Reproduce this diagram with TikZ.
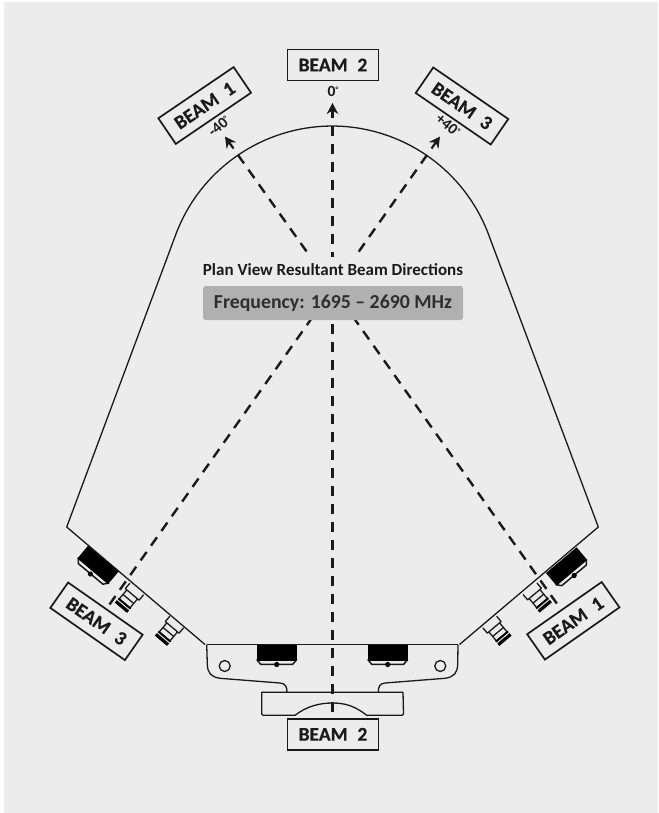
\documentclass[tikz,border=0pt]{standalone}
\usepackage{fontspec}
\usetikzlibrary{arrows.meta}
\setmainfont{Carlito}
\newfontfamily\heavyfont{Carlito Bold}[FakeBold=0.35]
\definecolor{bgc}{HTML}{ECECEC}
\definecolor{ink}{HTML}{1A1A1A}
\tikzset{
  x=1pt,y=-1pt,
  outline/.style={draw=ink,line width=1.3pt,line join=round},
  beamline/.style={draw=ink,line width=2.4pt,dash pattern=on 10.3pt off 7.7pt},
  beamtip/.style={draw=ink,line width=2.2pt,-{Stealth[length=11pt,width=11.5pt]}},
  beamlabel/.style={draw=ink,line width=1.7pt,fill=bgc,minimum width=91pt,minimum height=31pt,inner sep=0pt,font=\heavyfont\fontsize{19.5}{20}\selectfont,text=ink},
  anglelabel/.style={inner sep=0pt,font=\bfseries\fontsize{15.5}{16}\selectfont,text=ink},
}
\newcommand{\mountblock}[3]{%
  \begin{scope}[shift={(#1,#2)},rotate=#3]
    \draw[outline,line width=1.5pt,fill=bgc] (-20,15) -- (-16,19.8) -- (16,19.8) -- (20,15);
    \fill[black] (-20,0) -- (20,0) -- (20,16.5) -- (-20,16.5) -- cycle;
    \fill[black] (0,20) circle (2.6);
  \end{scope}}
\newcommand{\portblock}[3]{%
  \begin{scope}[shift={(#1,#2)},rotate=#3]
    \draw[outline] (-9,0) -- (-9,7) -- (9,7) -- (9,0);
    \draw[outline] (-7,7) -- (-7,19) -- (7,19) -- (7,7);
    \draw[outline] (-7,13) -- (7,13);
    \fill[black] (-8,18) rectangle (8,20);
    \fill[black] (-8,21.3) rectangle (8,24.5);
  \end{scope}}
\begin{document}
\begin{tikzpicture}
\useasboundingbox (0,0) rectangle (658,813);
\fill[white] (0,0) rectangle (658,813);
\fill[bgc] (4,2) rectangle (658,813);
% named points of the beam axes
\coordinate (c0) at (332.5,126);
\coordinate (c0low) at (332.5,713);
\coordinate (c0tail) at (332.5,118);
\coordinate (c0tip) at (332.5,103);
\coordinate (l0) at (238,155);
\coordinate (l0low) at (560,608);
\coordinate (l0tail) at (233.5,148.5);
\coordinate (l0tip) at (225,136.5);
\coordinate (r0) at (427,155);
\coordinate (r0low) at (107,608);
\coordinate (r0tail) at (431.5,148.5);
\coordinate (r0tip) at (440,136.5);
% housing
\draw[outline] (205,644.5) -- (66.7,527) -- (175.6,235)
  arc[start angle=159.65,end angle=20.35,radius=167pt]
  -- (598.3,527) -- (459.5,644.5);
\draw[outline] (206.7,644.5) -- (458,644.5);
\draw[outline] (206.7,644.5) -- (207.3,664) .. controls (207.5,673) and (211,677) .. (220,678.3)
  -- (280,683) .. controls (285,683.5) and (287,686) .. (287,692.3);
\draw[outline] (458,644.5) -- (457.7,664) .. controls (457.5,673) and (454,677) .. (445,678.3)
  -- (385,683) .. controls (380,683.5) and (378.3,686) .. (378.3,692.3);
\draw[outline] (295,715.3) -- (263,715.3) -- (261.7,714) -- (261.7,692.3) -- (403,692.3) -- (403.5,714) -- (402,715.3) -- (366.7,715.3)
  .. controls (355,706) and (345,703) .. (332.5,703) .. controls (320,703) and (307,706) .. (295,715.3);
\draw[outline] (224.7,666) circle (5.5);
\draw[outline] (440.3,666) circle (5.5);
% beams
\draw[beamline] (c0) -- (c0low);
\draw[beamline] (l0) -- (l0low);
\draw[beamline] (r0) -- (r0low);
\draw[beamtip] (c0tail) -- (c0tip);
\draw[beamtip] (l0tail) -- (l0tip);
\draw[beamtip] (r0tail) -- (r0tip);
% hardware
\mountblock{276.7}{644.5}{0}
\mountblock{387.7}{644.5}{0}
\mountblock{103.3}{558.7}{-40}
\mountblock{561.3}{560.2}{40}
\portblock{136.7}{589}{-40}
\portblock{176.7}{622}{-40}
\portblock{530}{588.7}{40}
\portblock{489.7}{622}{40}
% texts
\node[fill=bgc,inner sep=0pt,minimum width=262pt,minimum height=26pt] (title) at (333,270)
  {\bfseries\fontsize{17}{17}\selectfont\color{ink}Plan View Resultant Beam Directions};
\node[fill=black!31,rounded corners=2.5pt,inner sep=0pt,minimum width=260pt,minimum height=34pt] (freq) at (333,303)
  {\bfseries\fontsize{19.8}{20}\selectfont\color{black!82}Frequency: 1695 – 2690 MHz};
\node[beamlabel] (b2top) at (333,65) {BEAM\hspace{0.5em}2};
\node[beamlabel,rotate=34.2] (b1top) at (204.7,105.5) {BEAM\hspace{0.5em}1};
\node[beamlabel,rotate=-34.5] (b3top) at (462,106) {BEAM\hspace{0.5em}3};
\node[beamlabel,rotate=-35] (b3low) at (96.5,621.3) {BEAM\hspace{0.5em}3};
\node[beamlabel,rotate=35] (b1low) at (573.3,620.8) {BEAM\hspace{0.5em}1};
\node[beamlabel] (b2low) at (333,734.3) {BEAM\hspace{0.5em}2};
\node[anglelabel] (a0) at (333,91.5) {0\raisebox{4pt}{\fontsize{8}{8}\selectfont°}};
\node[anglelabel,rotate=40] (am) at (219,126) {-40\raisebox{4pt}{\fontsize{8}{8}\selectfont°}};
\node[anglelabel,rotate=-40] (ap) at (448,125.5) {+40\raisebox{4pt}{\fontsize{8}{8}\selectfont°}};
\end{tikzpicture}
\end{document}
